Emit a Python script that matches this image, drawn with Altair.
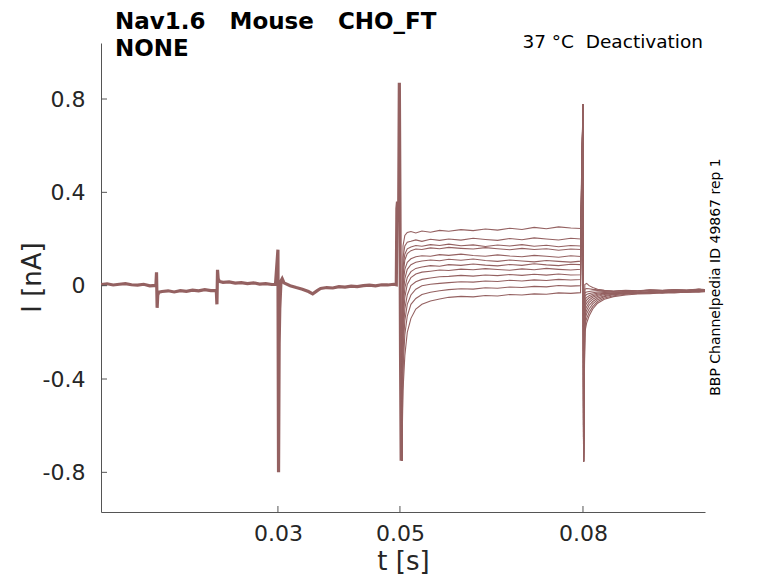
import altair as alt
import pandas as pd

# shared holding / pre-pulse part of all sweeps (s, nA)
base_t = [0.001, 0.002, 0.003, 0.004, 0.005, 0.006, 0.007, 0.008, 0.009, 0.0100,
          0.0101, 0.0102, 0.0103, 0.0105, 0.011, 0.012, 0.013, 0.014, 0.015, 0.016,
          0.017, 0.018, 0.019, 0.0199, 0.0200, 0.0201, 0.0202, 0.0204, 0.021, 0.022,
          0.023, 0.024, 0.025, 0.026, 0.027, 0.028, 0.029, 0.0296, 0.0300, 0.0301,
          0.0302, 0.0303, 0.0305, 0.0307, 0.031, 0.032, 0.033, 0.034, 0.035, 0.0357,
          0.0365, 0.037, 0.038, 0.039, 0.040, 0.041, 0.042, 0.043, 0.044, 0.045,
          0.046, 0.047, 0.048, 0.049, 0.0494, 0.0495, 0.0496, 0.0497, 0.0498, 0.0499,
          0.0500, 0.0501, 0.0502]
base_i = [0.004, 0.008, 0.003, 0.006, 0.009, 0.004, 0.002, 0.006, -0.001, 0.001,
          0.057, -0.095, -0.04, -0.028, -0.025, -0.022, -0.027, -0.021, -0.024, -0.019,
          -0.022, -0.017, -0.021, -0.02, -0.08, 0.068, 0.03, 0.018, 0.014, 0.016,
          0.011, 0.013, 0.009, 0.012, 0.007, 0.009, 0.005, 0.006, 0.154, -0.80,
          -0.25, -0.1, 0.02, 0.03, 0.012, 0.0, -0.008, -0.015, -0.025, -0.035,
          -0.02, -0.012, -0.008, -0.01, -0.004, -0.006, -0.002, -0.004, 0.0, 0.002,
          -0.001, 0.004, 0.003, 0.006, 0.004, 0.33, 0.36, 0.28, 0.35, 0.87,
          0.34, -0.3, -0.75]

# test pulse, one row per sweep
step_t = [0.0505, 0.0508, 0.0512, 0.0518, 0.0526, 0.0536, 0.055, 0.0565, 0.058, 0.060,
          0.062, 0.064, 0.066, 0.068, 0.070, 0.072, 0.074, 0.076, 0.078, 0.0796]
step_i = [
    [0.17, 0.215, 0.228, 0.232, 0.226, 0.234, 0.229, 0.237, 0.233, 0.24, 0.236, 0.243, 0.238, 0.246, 0.241, 0.25, 0.244, 0.252, 0.247, 0.245],
    [0.12, 0.17, 0.186, 0.19, 0.196, 0.19, 0.199, 0.194, 0.2, 0.195, 0.203, 0.198, 0.194, 0.202, 0.197, 0.205, 0.2, 0.196, 0.203, 0.2],
    [0.08, 0.135, 0.158, 0.166, 0.172, 0.169, 0.176, 0.172, 0.178, 0.171, 0.175, 0.168, 0.174, 0.17, 0.176, 0.169, 0.173, 0.167, 0.172, 0.17],
    [0.04, 0.11, 0.138, 0.15, 0.157, 0.155, 0.162, 0.158, 0.164, 0.16, 0.157, 0.163, 0.158, 0.154, 0.16, 0.155, 0.158, 0.152, 0.157, 0.155],
    [0.0, 0.07, 0.1, 0.115, 0.124, 0.128, 0.126, 0.133, 0.13, 0.135, 0.129, 0.126, 0.132, 0.127, 0.124, 0.13, 0.126, 0.122, 0.128, 0.125],
    [-0.05, 0.03, 0.07, 0.09, 0.1, 0.106, 0.11, 0.107, 0.113, 0.109, 0.114, 0.108, 0.104, 0.11, 0.106, 0.102, 0.108, 0.104, 0.101, 0.105],
    [-0.1, -0.01, 0.035, 0.06, 0.074, 0.08, 0.086, 0.083, 0.09, 0.087, 0.093, 0.088, 0.085, 0.091, 0.087, 0.094, 0.089, 0.086, 0.092, 0.09],
    [-0.16, -0.05, 0.005, 0.035, 0.05, 0.058, 0.062, 0.067, 0.065, 0.071, 0.068, 0.073, 0.069, 0.066, 0.072, 0.068, 0.074, 0.07, 0.067, 0.07],
    [-0.22, -0.1, -0.04, 0.0, 0.017, 0.027, 0.033, 0.038, 0.04, 0.044, 0.041, 0.046, 0.043, 0.048, 0.044, 0.049, 0.045, 0.05, 0.046, 0.047],
    [-0.28, -0.15, -0.08, -0.04, -0.015, 0.0, 0.006, 0.01, 0.013, 0.017, 0.015, 0.02, 0.018, 0.023, 0.02, 0.025, 0.022, 0.027, 0.024, 0.026],
    [-0.36, -0.21, -0.13, -0.08, -0.055, -0.038, -0.028, -0.022, -0.017, -0.013, -0.015, -0.009, -0.011, -0.006, -0.008, -0.003, -0.005, 0.001, -0.002, 0.0],
    [-0.45, -0.3, -0.2, -0.14, -0.1, -0.08, -0.066, -0.057, -0.05, -0.046, -0.048, -0.042, -0.044, -0.038, -0.04, -0.035, -0.037, -0.031, -0.033, -0.03],
]

# capacitive transients at the pulse edges
on_t, on_i = [0.0503], [-0.75]
off_t, off_i = [0.0800, 0.0801], [0.777, -0.754]

# tail currents after the pulse
tail_t = [0.0803, 0.0806, 0.081, 0.0816, 0.0824, 0.0835, 0.085, 0.087, 0.089, 0.091,
          0.093, 0.095, 0.097, 0.099, 0.1]
tail_i = [
    [-0.2, -0.16, -0.13, -0.1, -0.075, -0.058, -0.047, -0.04, -0.036, -0.034, -0.03, -0.031, -0.027, -0.028, -0.026],
    [-0.17, -0.14, -0.115, -0.09, -0.068, -0.053, -0.043, -0.037, -0.033, -0.029, -0.031, -0.027, -0.028, -0.024, -0.025],
    [-0.15, -0.12, -0.1, -0.078, -0.06, -0.047, -0.039, -0.034, -0.03, -0.032, -0.028, -0.029, -0.025, -0.026, -0.023],
    [-0.13, -0.105, -0.085, -0.068, -0.053, -0.043, -0.036, -0.031, -0.033, -0.029, -0.03, -0.026, -0.027, -0.023, -0.024],
    [-0.11, -0.09, -0.073, -0.058, -0.046, -0.038, -0.032, -0.034, -0.029, -0.031, -0.027, -0.028, -0.024, -0.025, -0.022],
    [-0.09, -0.075, -0.062, -0.05, -0.041, -0.035, -0.037, -0.031, -0.033, -0.028, -0.03, -0.025, -0.027, -0.022, -0.024],
    [-0.075, -0.062, -0.052, -0.043, -0.037, -0.032, -0.034, -0.029, -0.031, -0.026, -0.028, -0.024, -0.025, -0.021, -0.022],
    [-0.06, -0.05, -0.043, -0.037, -0.032, -0.029, -0.031, -0.027, -0.029, -0.025, -0.026, -0.022, -0.024, -0.02, -0.021],
    [-0.045, -0.038, -0.034, -0.03, -0.027, -0.025, -0.028, -0.024, -0.026, -0.022, -0.024, -0.02, -0.022, -0.018, -0.02],
    [-0.03, -0.027, -0.025, -0.023, -0.021, -0.023, -0.025, -0.021, -0.023, -0.019, -0.021, -0.018, -0.02, -0.016, -0.018],
    [-0.015, -0.012, -0.013, -0.016, -0.018, -0.021, -0.023, -0.02, -0.022, -0.018, -0.02, -0.017, -0.019, -0.015, -0.017],
    [0.005, 0.01, 0.0, -0.008, -0.015, -0.02, -0.024, -0.021, -0.023, -0.019, -0.021, -0.018, -0.02, -0.016, -0.018],
]

x_ticks = [0.03, 0.05, 0.08]
y_ticks = [-0.8, -0.4, 0, 0.4, 0.8]

TRACE = '#946161'
INK = '#262626'
W, H = 604, 469

base = pd.DataFrame({'t': base_t, 'I': base_i, 'k': range(len(base_t))})

rows = []
for n, (s, tl) in enumerate(zip(step_i, tail_i)):
    tt = on_t + step_t + off_t + tail_t
    ii = on_i + s + off_i + tl
    for k, (a, b) in enumerate(zip(tt, ii)):
        rows.append({'sweep': n, 'k': k, 't': a, 'I': b})
sweeps = pd.DataFrame(rows)

x_axis = alt.Axis(values=x_ticks, labelExpr="datum.value + ''", grid=False,
                  ticks=False, tickSize=0, labelPadding=11, labelFontSize=22,
                  labelColor=INK, domainColor='#555555', title='t [s]',
                  titleFontSize=26, titleFontWeight='normal', titleColor=INK,
                  titleY=57, titleBaseline='alphabetic')
y_axis = alt.Axis(values=y_ticks, labelExpr="datum.value + ''", grid=False,
                  ticks=False, tickSize=0, labelPadding=16, labelFontSize=22,
                  labelColor=INK, domainColor='#555555', title='I [nA]',
                  titleFontSize=26, titleFontWeight='normal', titleColor=INK,
                  titleX=-69, titleY=234, titleBaseline='middle')
x_enc = alt.X('t:Q', scale=alt.Scale(domain=[0.001, 0.1], nice=False, zero=False), axis=x_axis)
y_enc = alt.Y('I:Q', scale=alt.Scale(domain=[-0.97, 1.04], nice=False, zero=False), axis=y_axis)

hold = alt.Chart(base).mark_line(color=TRACE, strokeWidth=3.2, clip=True).encode(
    x=x_enc, y=y_enc, order='k:Q')

pulse = alt.Chart(sweeps).mark_line(color=TRACE, strokeWidth=1.1, clip=True).encode(
    x=x_enc, y=y_enc, detail='sweep:N', order='k:Q')

xt = alt.Chart(pd.DataFrame({'t': x_ticks})).mark_rule(color='#555555').encode(
    x=x_enc, y=alt.value(H), y2=alt.value(H - 6))
yt = alt.Chart(pd.DataFrame({'I': y_ticks})).mark_rule(color='#555555').encode(
    y=y_enc, x=alt.value(0), x2=alt.value(6))

one = pd.DataFrame({'a': [0]})
title = alt.Chart(one).mark_text(align='left', baseline='alphabetic', fontSize=23,
                                 fontWeight='bold', color='black', lineHeight=27).encode(
    x=alt.value(14), y=alt.value(-14),
    text=alt.value(['Nav1.6\u00a0\u00a0 Mouse\u00a0\u00a0 CHO_FT', 'NONE']))
cond = alt.Chart(one).mark_text(align='right', baseline='alphabetic', fontSize=18.5,
                                color='black').encode(
    x=alt.value(602), y=alt.value(5), text=alt.value('37 °C\u00a0 Deactivation'))
src = alt.Chart(one).mark_text(align='center', baseline='middle', fontSize=14,
                               angle=270, color='black').encode(
    x=alt.value(615), y=alt.value(234), text=alt.value('BBP Channelpedia ID 49867 rep 1'))

chart = (hold + pulse + xt + yt + title + cond + src).properties(
    width=W, height=H,
    padding={'left': 93, 'top': 35, 'right': 65, 'bottom': 63},
    autosize=alt.AutoSizeParams(type='none'),
).configure(font='DejaVu Sans').configure_view(strokeWidth=0)

chart.save("out.html", embed_options={"renderer": "svg", "actions": False})
